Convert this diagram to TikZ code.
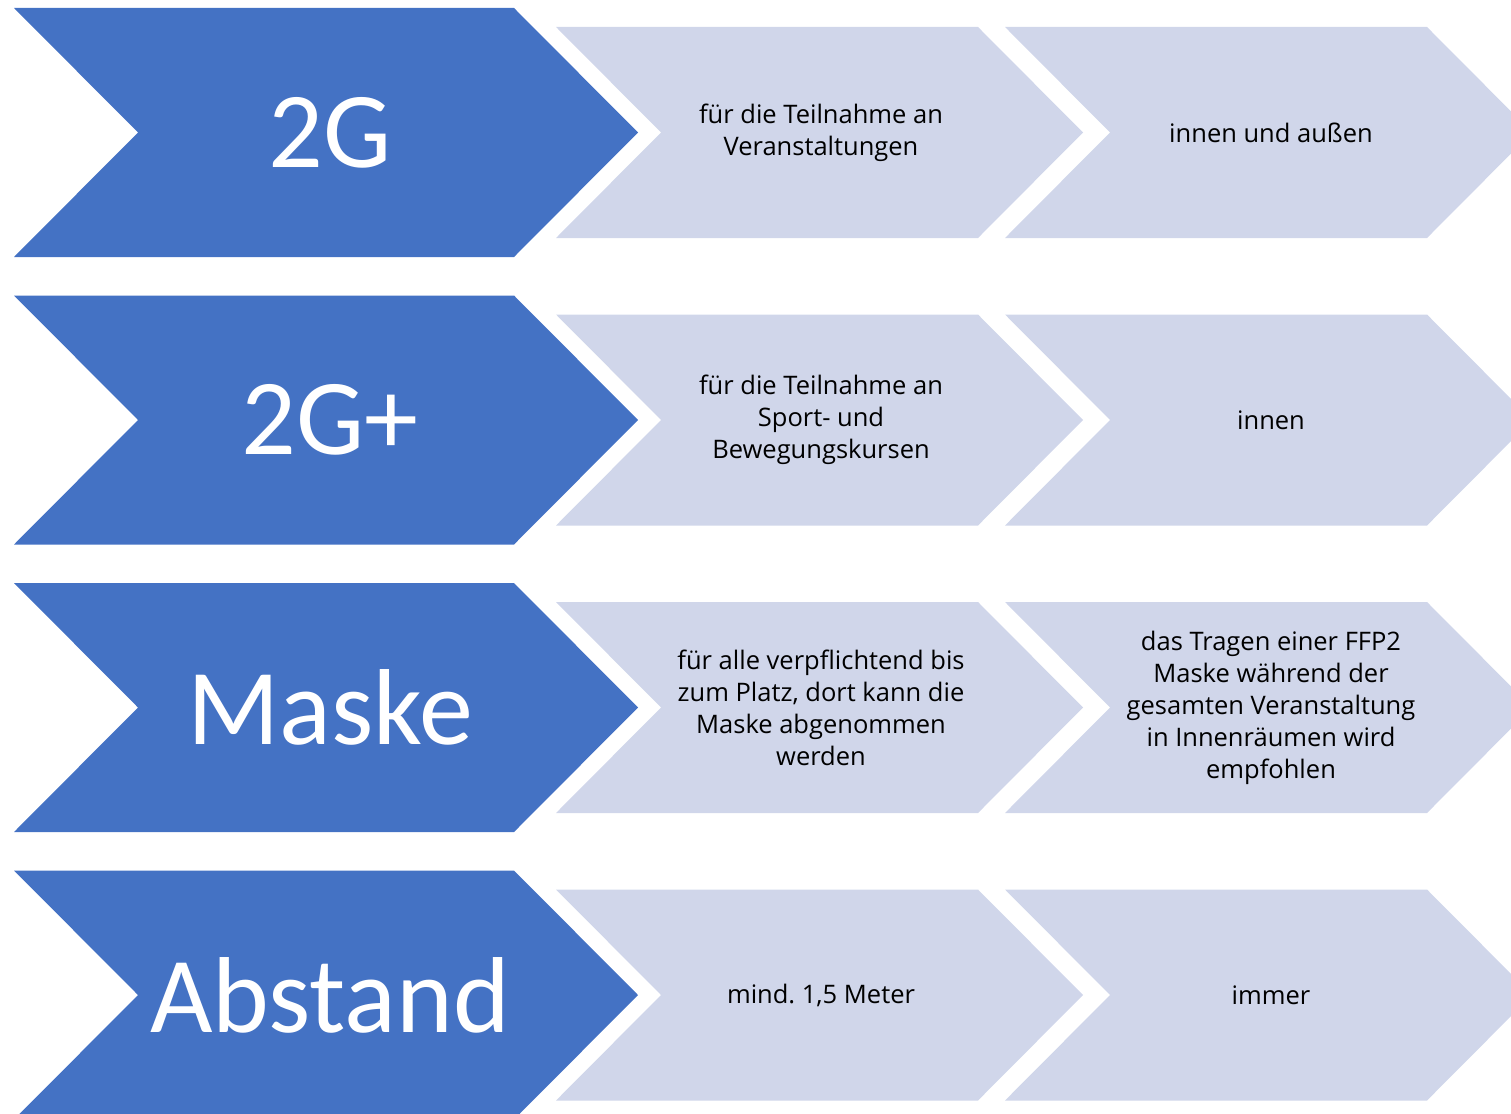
\documentclass[tikz,border=0pt]{standalone}
\usepackage{fontspec}
\setmainfont{Carlito}
\newfontfamily\detailfont{Open Sans}
\definecolor{rulesblue}{HTML}{4472C4}
\definecolor{rulesgrey}{HTML}{D0D6EA}
\frenchspacing
\begin{document}
\begin{tikzpicture}[
              x=1pt,y=-1pt,
              rule/.style={fill=rulesblue},
              detail/.style={fill=rulesgrey},
              ruletext/.style={text=white,font=\fontsize{108}{112}\selectfont},
              detailtext/.style={align=center,font=\detailfont\fontsize{25.5}{32}\selectfont}
            ]
            \useasboundingbox (0,0) rectangle (1511,1113);
            \clip (0,0) rectangle (1511,1113);

            % Row: 2G
            \fill[rule] (14,8) -- (514,8) -- (638,132.5) -- (514,257) -- (14,257) -- (138,132.5) -- cycle;
            \fill[detail] (556,27) -- (978,27) -- (1083,132.5) -- (978,238) -- (556,238) -- (661,132.5) -- cycle;
            \fill[detail] (1005,27) -- (1427,27) -- (1532,132.5) -- (1427,238) -- (1005,238) -- (1110,132.5) -- cycle;
            \node[ruletext] (zweig) at (330,132.5) {2G};
            \node[detailtext] (zweig-wo) at (821,132.5) {für die Teilnahme an\\Veranstaltungen};
            \node[detailtext] (zweig-wann) at (1271,132.5) {innen und außen};

            % Row: 2G+
            \fill[rule] (14,295.5) -- (514,295.5) -- (638,420) -- (514,544.5) -- (14,544.5) -- (138,420) -- cycle;
            \fill[detail] (556,314.5) -- (978,314.5) -- (1083,420) -- (978,525.5) -- (556,525.5) -- (661,420) -- cycle;
            \fill[detail] (1005,314.5) -- (1427,314.5) -- (1532,420) -- (1427,525.5) -- (1005,525.5) -- (1110,420) -- cycle;
            \node[ruletext] (zweigplus) at (330,420) {2G+};
            \node[detailtext] (zweigplus-wo) at (821,420) {für die Teilnahme an\\Sport- und\\Bewegungskursen};
            \node[detailtext] (zweigplus-wann) at (1271,420) {innen};

            % Row: Maske
            \fill[rule] (14,583) -- (514,583) -- (638,707.5) -- (514,832) -- (14,832) -- (138,707.5) -- cycle;
            \fill[detail] (556,602) -- (978,602) -- (1083,707.5) -- (978,813) -- (556,813) -- (661,707.5) -- cycle;
            \fill[detail] (1005,602) -- (1427,602) -- (1532,707.5) -- (1427,813) -- (1005,813) -- (1110,707.5) -- cycle;
            \node[ruletext] (maske) at (330,707.5) {Maske};
            \node[detailtext] (maske-wo) at (821,707.5) {für alle verpflichtend bis\\zum Platz, dort kann die\\Maske abgenommen\\werden};
            \node[detailtext] (maske-wann) at (1271,707.5) {das Tragen einer FFP2\\Maske während der\\gesamten Veranstaltung\\in Innenräumen wird\\empfohlen};

            % Row: Abstand
            \fill[rule] (14,870.5) -- (514,870.5) -- (638,995) -- (514,1119.5) -- (14,1119.5) -- (138,995) -- cycle;
            \fill[detail] (556,889.5) -- (978,889.5) -- (1083,995) -- (978,1100.5) -- (556,1100.5) -- (661,995) -- cycle;
            \fill[detail] (1005,889.5) -- (1427,889.5) -- (1532,995) -- (1427,1100.5) -- (1005,1100.5) -- (1110,995) -- cycle;
            \node[ruletext] (abstand) at (330,995) {Abstand};
            \node[detailtext] (abstand-wo) at (821,995) {mind. 1,5 Meter};
            \node[detailtext] (abstand-wann) at (1271,995) {immer};

            \end{tikzpicture}
\end{document}
